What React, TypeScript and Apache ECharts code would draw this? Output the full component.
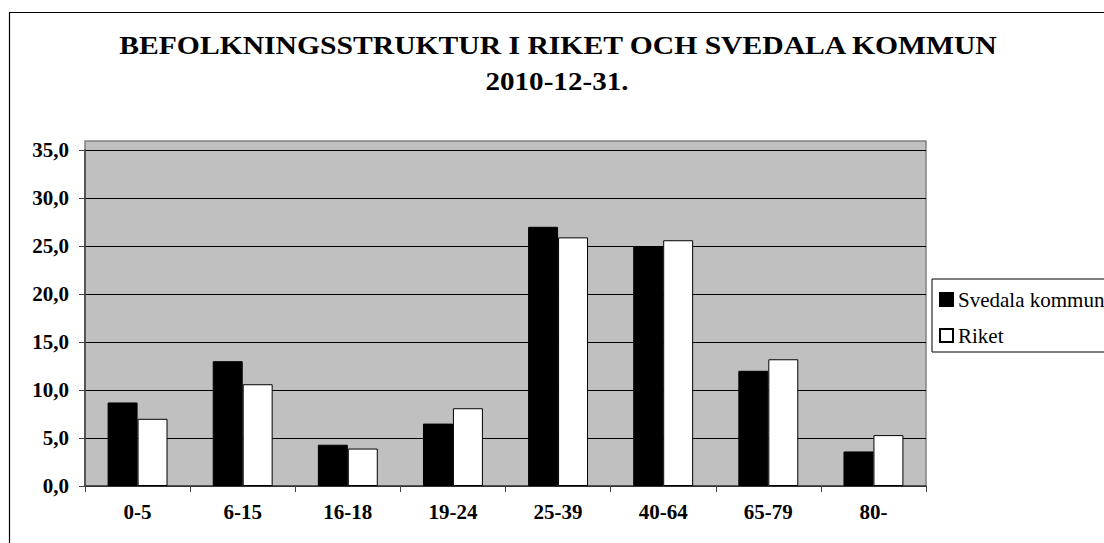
import React, { useEffect, useRef } from "react";
import * as echarts from "echarts";

const categories = ["0-5", "6-15", "16-18", "19-24", "25-39", "40-64", "65-79", "80-"];
const svedala = [8.7, 13.0, 4.3, 6.5, 27.0, 25.0, 12.0, 3.6];
const riket = [7.0, 10.6, 3.9, 8.1, 25.9, 25.6, 13.2, 5.3];
const seriesNames = ["Svedala kommun", "Riket"];
const titleLines = ["BEFOLKNINGSSTRUKTUR I RIKET OCH SVEDALA KOMMUN", "2010-12-31."];

const FONT = "'Liberation Serif', 'Times New Roman', serif";

export default function App() {
  const ref = useRef<HTMLDivElement>(null);

  useEffect(() => {
    if (!ref.current) return;
    const chart = echarts.init(ref.current, null, { renderer: "svg" });
    const option: any = {
      animation: false,
      backgroundColor: "#ffffff",
      textStyle: { fontFamily: FONT, color: "#000" },
      graphic: [
        {
          type: "rect",
          z: -5,
          silent: true,
          shape: { x: 85, y: 141, width: 841, height: 345 },
          style: { fill: "#c0c0c0", stroke: "#808080", lineWidth: 1.5 },
        },
        {
          type: "rect",
          z: -6,
          silent: true,
          shape: { x: 9.5, y: 12.5, width: 1200, height: 600 },
          style: { fill: "none", stroke: "#000", lineWidth: 1.2 },
        },
        {
          type: "text",
          x: 558,
          y: 45,
          scaleX: 1.14,
          style: {
            text: titleLines[0],
            x: 0,
            y: 0,
            textAlign: "center",
            textVerticalAlign: "middle",
            font: `bold 26px ${FONT}`,
            fill: "#000",
          },
        },
        {
          type: "text",
          x: 557,
          y: 81,
          scaleX: 1.12,
          style: {
            text: titleLines[1],
            x: 0,
            y: 0,
            textAlign: "center",
            textVerticalAlign: "middle",
            font: `bold 26px ${FONT}`,
            fill: "#000",
          },
        },
      ],
      legend: {
        orient: "vertical",
        left: 932,
        top: 279,
        padding: [10, 10, 6, 7],
        itemWidth: 13,
        itemHeight: 13,
        itemGap: 15,
        icon: "rect",
        borderColor: "#000",
        borderWidth: 1,
        backgroundColor: "#fff",
        textStyle: { fontFamily: FONT, fontSize: 21, color: "#000" },
        data: seriesNames,
      },
      grid: { left: 85, right: 178, top: 150, bottom: 57, containLabel: false },
      xAxis: {
        type: "category",
        data: categories,
        boundaryGap: true,
        axisLine: { show: true, lineStyle: { color: "#404040", width: 1.5 } },
        axisTick: { show: true, length: 6, interval: 0, alignWithLabel: false, lineStyle: { color: "#404040" } },
        axisLabel: {
          margin: 15,
          fontFamily: FONT,
          fontSize: 21,
          fontWeight: "bold",
          color: "#000",
          interval: 0,
        },
        splitLine: { show: false },
      },
      yAxis: {
        type: "value",
        min: 0,
        max: 35,
        interval: 5,
        axisLine: { show: true, lineStyle: { color: "#404040", width: 1.5 } },
        axisTick: { show: true, length: 6, lineStyle: { color: "#404040" } },
        axisLabel: {
          margin: 16,
          fontFamily: FONT,
          fontSize: 21,
          fontWeight: "bold",
          color: "#000",
          formatter: (v: number) => v.toFixed(1).replace(".", ","),
        },
        splitLine: { show: true, lineStyle: { color: "#000", width: 1 } },
      },
      series: [
        {
          name: seriesNames[0],
          type: "bar",
          data: svedala,
          barGap: "0%",
          barCategoryGap: "43%",
          itemStyle: { color: "#000", borderColor: "#000", borderWidth: 1 },
        },
        {
          name: seriesNames[1],
          type: "bar",
          data: riket,
          barGap: "0%",
          barCategoryGap: "43%",
          itemStyle: { color: "#fff", borderColor: "#000", borderWidth: 1 },
        },
      ],
    };
    chart.setOption(option);
    return () => chart.dispose();
  }, []);

  return (
    <div
      ref={ref}
      style={{ position: "absolute", left: 0, top: 0, width: 1104, height: 543 }}
    />
  );
}
